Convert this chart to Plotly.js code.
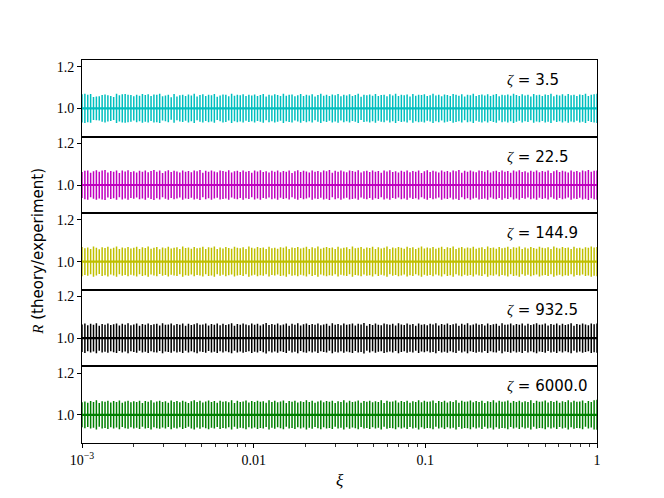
<!DOCTYPE html>
<html>
<head>
<meta charset="utf-8">
<script src="https://cdn.plot.ly/plotly-3.0.1.min.js"></script>
<style>
  html, body { margin: 0; padding: 0; background: #fff; }
  #plot { width: 664px; height: 498px; }
</style>
</head>
<body>
<div id="plot"></div>
<script>
// zeta values, one panel each (top to bottom)
const zetas = ['3.5', '22.5', '144.9', '932.5', '6000.0'];
const colors = ['#00bfbf', '#bf00bf', '#bfbf00', '#000000', '#008000'];

// ratio R at every xi point is 1.0; error half-widths (in units of 1e-3)
const err_c = [68,70,66,69,55,57,58,64,67,63,60,55,70,63,68,69,66,64,58,66,
  61,69,64,68,60,67,66,70,58,62,66,54,69,57,63,65,59,67,62,70,
  57,64,68,60,66,63,69,56,62,67,65,58,70,61,66,63,68,59,65,62,
  67,60,64,69,57,66,62,68,64,59,70,61,65,67,58,63,69,60,66,62,
  68,57,64,70,61,65,59,67,63,69,58,66,62,68,60,64,70,56,65,63,
  67,61,69,59,64,66,58,68,62,70,60,65,63,67,57,69,61,66,64,68,
  59,63,70,62,66,58,67,64,60,69,65,61,68,57,66,63,70,59,64,67,
  62,68,60,65,69,58,66,63,67,61,70,64,59,68,62,65,57,69,63,66,
  60,67,64,70,58,65,62,68,61,69,63,66,59,67,64,70,60,65,68,70];
const err_m = [62,68,70,59,66,71,64,69,72,60,67,63,70,58,69,65,71,62,66,60,
  68,64,70,61,67,72,63,69,58,66,71,62,68,65,60,70,64,67,61,69,
  66,72,59,68,63,70,65,61,69,67,64,71,60,66,68,62,70,63,67,59,
  69,65,71,62,66,60,68,64,70,61,67,63,69,58,66,71,62,68,65,60,
  70,64,67,61,69,66,72,59,68,63,70,65,61,69,67,64,71,60,66,68,
  62,70,63,67,59,69,65,71,62,66,60,68,64,70,61,67,63,69,58,66,
  71,62,68,65,60,70,64,67,61,69,66,72,59,68,63,70,65,61,69,67,
  64,71,60,66,68,62,70,63,67,59,69,65,71,62,66,60,68,64,70,61,
  67,63,69,58,66,71,62,68,65,60,70,64,67,61,69,66,72,63,68,70];
const err_y = [70,64,68,61,72,66,59,69,65,71,62,67,73,60,68,64,70,63,66,71,
  61,69,65,72,62,67,70,59,68,64,71,63,66,69,60,72,65,68,62,70,
  64,67,71,61,69,66,73,60,68,63,70,65,62,71,67,64,69,61,72,66,
  63,70,65,68,60,71,64,67,62,69,66,72,61,68,65,70,63,67,71,60,
  69,64,72,62,66,70,65,68,61,71,63,67,69,60,72,64,66,70,62,68,
  65,71,61,69,63,67,72,60,68,64,70,66,62,71,65,69,61,67,73,63,
  68,64,70,62,66,71,60,69,65,72,61,67,70,63,68,64,71,62,66,69,
  60,72,65,68,62,70,64,67,71,61,69,66,73,60,68,63,70,65,62,71,
  67,64,69,61,72,66,63,70,65,68,60,71,64,67,62,69,66,72,68,70];
const err_k = [66,71,62,69,64,72,60,68,65,70,63,67,71,61,69,64,72,62,66,70,
  60,68,65,71,63,67,69,61,72,64,66,70,62,68,65,71,60,69,63,67,
  72,64,66,70,61,68,65,71,62,69,63,67,72,60,68,64,70,66,62,71,
  65,69,61,67,73,63,68,64,70,62,66,71,60,69,65,72,61,67,70,63,
  68,64,71,62,66,69,60,72,65,68,62,70,64,67,71,61,69,66,73,60,
  68,63,70,65,62,71,67,64,69,61,72,66,63,70,65,68,60,71,64,67,
  62,69,66,72,61,68,65,70,63,67,71,60,69,64,72,62,66,70,65,68,
  61,71,63,67,69,60,72,64,66,70,62,68,65,71,61,69,63,67,72,64,
  66,70,61,68,65,71,62,69,63,67,72,60,68,64,70,66,62,71,67,70];
const err_g = [60,64,58,66,62,70,57,65,63,68,59,66,61,69,58,64,67,60,65,62,
  68,57,66,63,70,59,64,67,61,65,58,69,62,66,60,68,63,57,65,70,
  61,67,59,64,69,62,66,58,68,63,65,60,70,57,67,62,64,69,59,66,
  61,68,63,65,58,70,62,67,60,64,69,57,66,63,68,59,65,61,70,62,
  67,58,64,69,60,66,63,68,57,65,62,70,59,67,61,64,69,58,66,63,
  68,60,65,62,70,57,67,63,64,69,59,66,61,68,58,65,62,70,60,67,
  63,64,69,57,66,61,68,59,65,62,70,58,67,63,64,69,60,66,61,68,
  57,65,62,70,59,67,63,64,69,58,66,61,68,60,65,62,70,57,67,63,
  64,69,59,66,61,68,58,65,62,70,60,67,63,64,69,57,66,61,70,72];
const errs = [err_c, err_m, err_y, err_k, err_g];

// xi sample grid (log spaced from 1e-3 to 1, one point per error bar)
const N = err_c.length;
const xi = [];
for (let i = 0; i < N; i++) xi.push(Math.pow(10, -3 + 3 * i / (N - 1)));

const xTickVals = [0.001, 0.01, 0.1, 1];
const xTickText = ['10<sup>−3</sup>', '0.01', '0.1', '1'];
const yTickVals = [1.0, 1.2];
const yTickText = ['1.0', '1.2'];

const minorVals = [];
[0.001, 0.01, 0.1].forEach(d => { for (let k = 2; k <= 9; k++) minorVals.push(d * k); });

const serif = 'Liberation Serif, DejaVu Serif, serif';
const sans = 'DejaVu Sans, sans-serif';

const traces = [];
const layout = {
  width: 664, height: 498,
  margin: {l: 82, r: 67, t: 60, b: 55},
  paper_bgcolor: '#fff', plot_bgcolor: '#fff',
  showlegend: false,
  annotations: []
};

const nP = zetas.length;
for (let p = 0; p < nP; p++) {
  const sfx = p === 0 ? '' : String(p + 1);
  const top = 1 - p / nP, bot = 1 - (p + 1) / nP;
  traces.push({
    x: xi,
    y: xi.map(() => 1.0),
    xaxis: 'x' + sfx, yaxis: 'y' + sfx,
    type: 'scatter', mode: 'lines',
    line: {color: colors[p], width: 2.2},
    error_y: {type: 'data', symmetric: true, array: errs[p].map(v => v / 1000),
      color: colors[p], thickness: 1.5, width: 0},
    hoverinfo: 'skip'
  });
  const last = p === nP - 1;
  const xa = {
    type: 'log', range: [-3, 0], anchor: 'y' + sfx,
    showgrid: false, zeroline: false,
    showline: true, mirror: true, linecolor: '#000', linewidth: 1,
    tickmode: 'array', tickvals: xTickVals, ticktext: xTickText,
    ticks: last ? 'outside' : '', ticklen: 4, tickwidth: 1, tickcolor: '#000',
    showticklabels: last,
    tickfont: {family: serif, size: 14, color: '#000'}
  };
  if (last) xa.minor = {tickmode: 'array', tickvals: minorVals, ticks: 'outside', ticklen: 2.5, tickwidth: 0.8, tickcolor: '#000'};
  layout['xaxis' + sfx] = xa;
  layout['yaxis' + sfx] = {
    domain: [bot, top], anchor: 'x' + sfx,
    range: [0.865, 1.232],
    showgrid: false, zeroline: false,
    showline: true, mirror: true, linecolor: '#000', linewidth: 1,
    tickmode: 'array', tickvals: yTickVals, ticktext: yTickText,
    ticks: 'outside', ticklen: 4, tickwidth: 1, tickcolor: '#000',
    tickfont: {family: serif, size: 14, color: '#000'}
  };
  layout.annotations.push({
    xref: 'x' + sfx + ' domain', yref: 'y' + sfx + ' domain',
    x: 0.822, y: 0.74, xanchor: 'left', yanchor: 'middle', showarrow: false,
    text: "<span style='font-family:" + serif + ";font-style:italic'>ζ</span> = " + zetas[p],
    font: {family: sans, size: 15, color: '#000'}
  });
}

// axis titles
layout.annotations.push({
  xref: 'paper', yref: 'paper', x: 0.5, y: -0.097, xanchor: 'center', yanchor: 'middle',
  showarrow: false, text: '<i>ξ</i>', font: {family: serif, size: 17, color: '#000'}
});
layout.annotations.push({
  xref: 'paper', yref: 'paper', x: -0.087, y: 0.5, xanchor: 'center', yanchor: 'middle',
  showarrow: false, textangle: -90,
  text: "<span style='font-family:" + serif + ";font-style:italic'>R</span> (theory/experiment)",
  font: {family: sans, size: 15, color: '#000'}
});

Plotly.newPlot('plot', traces, layout, {staticPlot: true});
</script>
</body>
</html>
